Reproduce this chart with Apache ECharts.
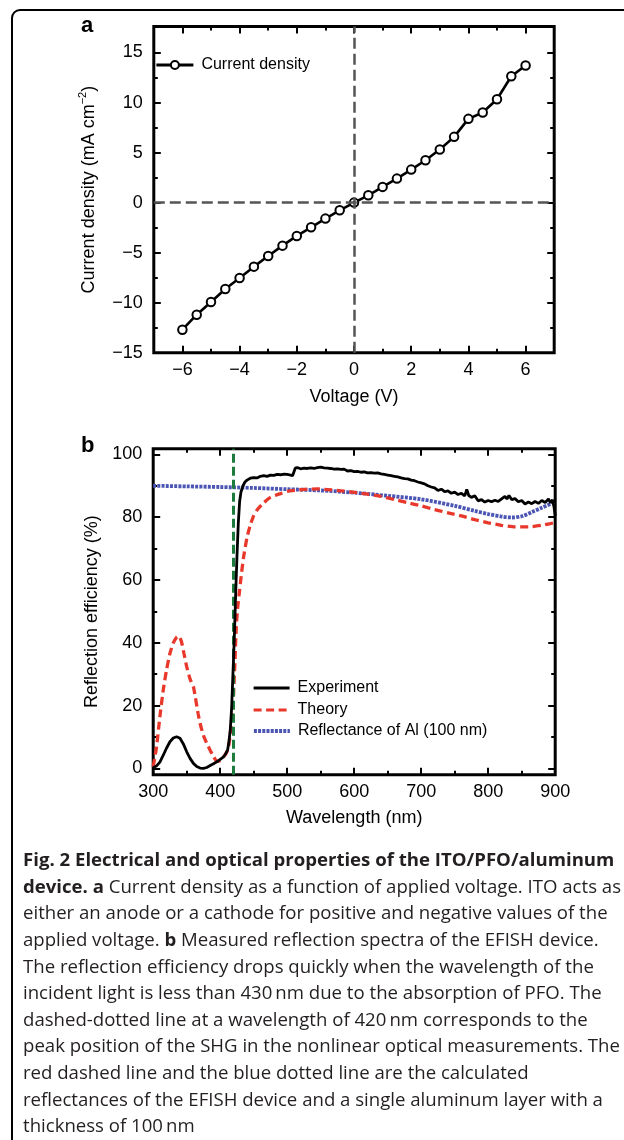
<!DOCTYPE html>
<html><head><meta charset="utf-8">
<script src="https://cdn.jsdelivr.net/npm/echarts@6/dist/echarts.min.js"></script>
<style>html,body{margin:0;padding:0;background:#fff}#c{width:624px;height:1140px}</style>
</head><body><div id="c"></div><script>
// ---------- Panel a data ----------
const voltage = [-6,-5.5,-5,-4.5,-4,-3.5,-3,-2.5,-2,-1.5,-1,-0.5,0,0.5,1,1.5,2,2.5,3,3.5,4,4.5,5,5.5,6];
const currentDensity = [-12.7,-11.2,-9.93,-8.63,-7.53,-6.4,-5.33,-4.3,-3.33,-2.47,-1.6,-0.77,0,0.73,1.57,2.4,3.3,4.23,5.3,6.57,8.37,9.0,10.33,12.63,13.7];
const aXMajor = [-6,-4,-2,0,2,4,6];
const aXMinor = [-5,-3,-1,1,3,5];
const aYMajor = [-15,-10,-5,0,5,10,15];
const aYMinor = [-12.5,-7.5,-2.5,2.5,7.5,12.5];
const zeroV = 0, zeroJ = 0;

// ---------- Panel b data ----------
const expWl = [300,305,310,315,320,325,330,335,340,345,350,355,360,365,370,375,380,385,390,395,400,405,408,411,413,415,417,419,421,423,425,427,429,431,434,437,440,445,450,455,460,465,470,475,480,485,490,495,500,505,508,510,512,515,520,525,530,535,540,545,550,555,560,565,570,575,580,585,590,595,600,605,610,615,620,625,630,635,640,645,650,655,660,665,670,675,680,685,690,695,700,705,710,715,720,725,730,735,740,745,750,755,760,765,768,771,775,780,785,790,795,800,805,810,815,820,825,828,831,835,840,845,850,855,860,865,870,875,880,885,890,893,896,898,900];
const expVal = [0.3,0.8,2.0,4.2,6.5,8.5,9.7,10.1,9.6,7.8,5.3,3.2,1.6,0.6,0.1,0,0.3,0.9,1.5,2.1,2.9,3.7,4.6,5.8,8.5,12.2,19,30,41,55,67.4,78,85,88,90,91.2,91.8,92.4,92.6,92.5,93.0,93.2,93.0,93.4,93.3,93.6,93.5,93.7,93.6,93.4,93.2,93.5,95.6,95.8,95.4,95.6,95.5,95.7,95.5,95.8,95.9,95.7,95.6,95.5,95.3,95.4,95.2,95.3,94.7,94.8,94.5,94.6,94.3,94.4,94.1,94.2,94.0,94.1,93.8,93.6,93.4,93.2,93.0,92.8,92.5,92.3,92.2,91.8,91.6,91.2,90.9,90.6,90.0,89.6,89.3,88.5,88.9,88.1,88.4,87.6,88.0,87.2,87.6,86.8,88.8,86.9,86.3,86.8,85.2,85.6,84.8,85.3,84.9,85.4,85.0,85.8,86.6,85.8,86.9,85.6,85.9,84.9,85.3,84.2,84.8,84.3,85.0,84.4,85.3,84.7,85.8,84.6,85.5,83.5,80.5];
const theoryWl = [300,305,310,315,320,325,330,335,338,342,346,350,355,360,363,367,370,375,380,385,390,395,400,405,410,413,416,418,420,422,424,426,429,432,435,440,445,450,455,465,475,490,500,515,530,545,560,580,600,620,640,660,680,700,720,740,760,780,800,820,840,860,880,900];
const theoryVal = [0.5,6.9,16.5,25,31.5,36.6,40,41.8,42.2,40.5,36.5,32.4,28.5,26,22.5,17.5,14.3,10.5,8,5.8,3.8,2.3,2.5,3.6,5.3,7.5,13,18,23.9,34,45,51,56.8,62.5,67.4,73.5,77.5,80.5,82.3,84.6,86.3,87.5,88.2,88.6,88.9,89.0,88.8,88.4,87.9,87.3,86.6,85.6,84.6,83.6,82.4,81.4,80.4,79.2,78.2,77.4,76.9,76.9,77.4,78.3];
const alWl = [300,350,400,450,500,550,600,650,700,750,780,800,820,835,850,865,880,900];
const alVal = [90.0,89.8,89.6,89.3,88.9,88.5,87.8,86.8,85.7,83.6,82.0,81.0,80.2,79.9,80.3,81.6,83.0,84.9];
const shgWavelength = 420;
const bXMajor = [300,400,500,600,700,800,900];
const bXMinor = [350,450,550,650,750,850];
const bYMajor = [0,20,40,60,80,100];
const bYMinor = [10,30,50,70,90];

const captionLines = [
  '{b|Fig. 2 Electrical and optical properties of the ITO/PFO/aluminum}',
  '{b|device. a} Current density as a function of applied voltage. ITO acts as',
  'either an anode or a cathode for positive and negative values of the',
  'applied voltage. {b|b} Measured reflection spectra of the EFISH device.',
  'The reflection efficiency drops quickly when the wavelength of the',
  'incident light is less than 430\u2009nm due to the absorption of PFO. The',
  'dashed-dotted line at a wavelength of 420\u2009nm corresponds to the',
  'peak position of the SHG in the nonlinear optical measurements. The',
  'red dashed line and the blue dotted line are the calculated',
  'reflectances of the EFISH device and a single aluminum layer with a',
  'thickness of 100\u2009nm'
];

const FONT = '"Liberation Sans", Arial, Helvetica, sans-serif';
const CAP_FONT = '"Open Sans", "Noto Sans", sans-serif';
const CAP_SIZE = 18.6;
const minus = v => v < 0 ? '\u2212' + Math.abs(v) : String(v);
const zip = (a, b) => a.map((x, i) => [x, b[i]]);

const BLACK = '#000', RED = '#e8382b', BLUE = '#4b55b4', GREEN = '#1d7b3e';
const redDash = [8, 4.5], blueDot = [3, 1.2];

function axisSet(dim, gridIndex, min, max, majors, minors, mainExtra) {
  const pos = dim === 'x' ? ['bottom', 'top'] : ['left', 'right'];
  const base = {gridIndex, type: 'value', min, max, splitLine: {show: false}, axisLine: {show: false, onZero: false}};
  const tl = {color: '#000', width: 2};
  return [
    Object.assign({}, base, {
      position: pos[0],
      axisTick: {show: true, inside: true, length: 7, customValues: majors, lineStyle: tl},
      axisLabel: {show: true, customValues: majors, formatter: minus, color: '#000', fontSize: 18, fontFamily: FONT, margin: dim === 'x' ? 8 : 11}
    }, mainExtra),
    Object.assign({}, base, {position: pos[0], axisTick: {show: true, inside: true, length: 4, customValues: minors, lineStyle: tl}, axisLabel: {show: false}}),
    Object.assign({}, base, {position: pos[1], axisTick: {show: true, inside: true, length: 7, customValues: majors, lineStyle: tl}, axisLabel: {show: false}}),
    Object.assign({}, base, {position: pos[1], axisTick: {show: true, inside: true, length: 4, customValues: minors, lineStyle: tl}, axisLabel: {show: false}})
  ];
}

const nameStyle = {fontSize: 18, color: '#000', fontFamily: FONT};

const xAxes = [].concat(
  axisSet('x', 0, -7, 7, aXMajor, aXMinor, {name: 'Voltage (V)', nameLocation: 'middle', nameGap: 35, nameTextStyle: nameStyle}),
  axisSet('x', 1, 300, 900, bXMajor, bXMinor, {name: 'Wavelength (nm)', nameLocation: 'middle', nameGap: 34, nameTextStyle: nameStyle})
);
const yAxes = [].concat(
  axisSet('y', 0, -15, 17.6, aYMajor, aYMinor, {
    name: 'Current density (mA cm{sup|\u22122})', nameLocation: 'middle', nameGap: 45, nameRotate: 90,
    nameTextStyle: Object.assign({}, nameStyle, {lineHeight: 24, rich: {sup: {fontSize: 11, fontFamily: FONT, color: '#000', verticalAlign: 'top', lineHeight: 24}}})
  }),
  axisSet('y', 1, -2, 101.8, bYMajor, bYMinor, {name: 'Reflection efficiency (%)', nameLocation: 'middle', nameGap: 52, nameRotate: 90, nameTextStyle: nameStyle})
);

const legendBase = {orient: 'horizontal', padding: 0, itemGap: 0, itemWidth: 36, itemHeight: 10,
  textStyle: {fontSize: 16, color: '#000', fontFamily: FONT, padding: [0, 0, 0, 3]}, selectedMode: false};

const graphics = [
  {type: 'rect', shape: {x: 12, y: 10, width: 700, height: 1200, r: [8, 0, 0, 0]}, style: {fill: 'none', stroke: '#000', lineWidth: 2}, silent: true},
  {type: 'text', x: 81, y: 26, style: {text: 'a', fontSize: 22, fontWeight: 'bold', fontFamily: FONT, fill: '#000', verticalAlign: 'middle'}},
  {type: 'text', x: 81, y: 446, style: {text: 'b', fontSize: 22, fontWeight: 'bold', fontFamily: FONT, fill: '#000', verticalAlign: 'middle'}}
];
captionLines.forEach((t, i) => {
  graphics.push({type: 'text', x: 23, y: 861 + i * 26.6, style: {
    text: t, fontSize: CAP_SIZE, fontFamily: CAP_FONT, fill: '#231f20', verticalAlign: 'middle',
    rich: {b: {fontSize: CAP_SIZE, fontFamily: CAP_FONT, fontWeight: 'bold', fill: '#231f20', color: '#231f20'}}
  }});
});

const option = {
  animation: false,
  textStyle: {fontFamily: FONT},
  grid: [
    {left: 153.8, top: 26.5, width: 400.4, height: 326.2, show: true, borderColor: '#000', borderWidth: 3, backgroundColor: 'transparent', containLabel: false},
    {left: 153.2, top: 448.7, width: 402, height: 326, show: true, borderColor: '#000', borderWidth: 3, backgroundColor: 'transparent', containLabel: false}
  ],
  xAxis: xAxes,
  yAxis: yAxes,
  legend: [
    Object.assign({}, legendBase, {data: ['Current density'], left: 155, top: 57, itemWidth: 37, lineStyle: {width: 2.8, color: BLACK}}),
    Object.assign({}, legendBase, {data: ['Experiment'], left: 252, top: 680, itemHeight: 14, itemStyle: {opacity: 0}, lineStyle: {width: 3.2, color: BLACK}}),
    Object.assign({}, legendBase, {data: ['Theory'], left: 252, top: 702, itemHeight: 14, itemStyle: {opacity: 0}, lineStyle: {width: 3.2, color: RED, type: redDash}}),
    Object.assign({}, legendBase, {data: ['Reflectance of Al (100 nm)'], left: 252, top: 723, itemHeight: 14, itemStyle: {opacity: 0}, lineStyle: {width: 3.8, color: BLUE, type: blueDot}})
  ],
  series: [
    {type: 'line', name: 'zero-lines', xAxisIndex: 0, yAxisIndex: 0, data: [], z: 1, silent: true,
      markLine: {symbol: ['none', 'none'], silent: true, label: {show: false}, animation: false,
        lineStyle: {color: '#555', width: 2.5, type: [11, 5]}, emphasis: {disabled: true},
        data: [{xAxis: zeroV}, {yAxis: zeroJ}]}},
    {type: 'line', name: 'Current density', xAxisIndex: 0, yAxisIndex: 0, z: 3,
      data: zip(voltage, currentDensity), symbol: 'circle', symbolSize: 8.5, showSymbol: true,
      itemStyle: {color: '#fff', borderColor: BLACK, borderWidth: 2},
      lineStyle: {color: BLACK, width: 2.6}},
    {type: 'line', name: 'Reflectance of Al (100 nm)', xAxisIndex: 4, yAxisIndex: 4, z: 2,
      data: zip(alWl, alVal), symbol: 'none', smooth: 0.3,
      itemStyle: {color: BLUE}, lineStyle: {color: BLUE, width: 3.8, type: blueDot}},
    {type: 'line', name: 'Theory', xAxisIndex: 4, yAxisIndex: 4, z: 3,
      data: zip(theoryWl, theoryVal), symbol: 'none', smooth: 0.2,
      itemStyle: {color: RED}, lineStyle: {color: RED, width: 3.3, type: redDash}},
    {type: 'line', name: 'shg', xAxisIndex: 4, yAxisIndex: 4, data: [], z: 4, silent: true,
      markLine: {symbol: ['none', 'none'], silent: true, label: {show: false}, animation: false,
        lineStyle: {color: GREEN, width: 3, type: [9, 4]}, emphasis: {disabled: true},
        data: [{xAxis: shgWavelength}]}},
    {type: 'line', name: 'Experiment', xAxisIndex: 4, yAxisIndex: 4, z: 5,
      data: zip(expWl, expVal), symbol: 'none',
      itemStyle: {color: BLACK}, lineStyle: {color: BLACK, width: 2.8}}
  ],
  graphic: graphics
};

const chart = echarts.init(document.getElementById('c'), null, {renderer: 'canvas'});
chart.setOption(option);
</script></body></html>
